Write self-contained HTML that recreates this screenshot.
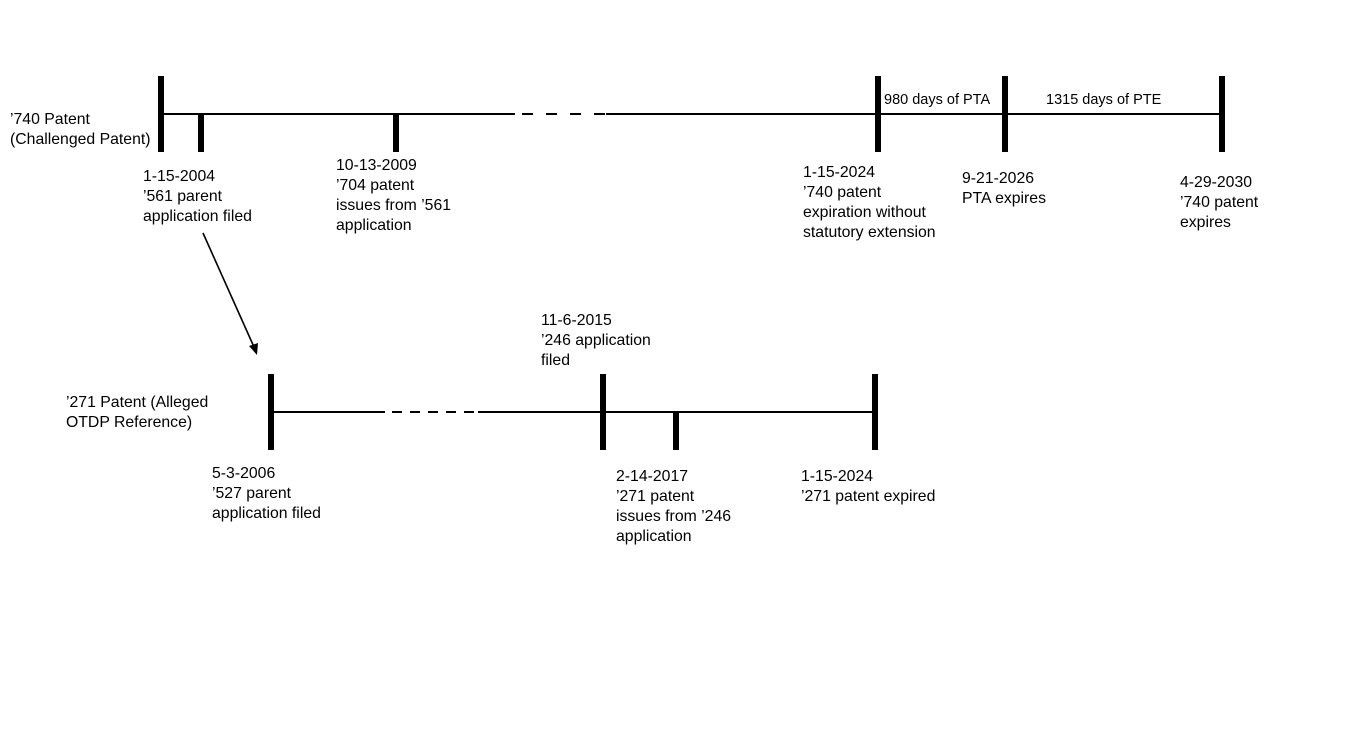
<!DOCTYPE html>
<html><head><style>
html,body{margin:0;padding:0;background:#fff;width:1346px;height:751px;overflow:hidden}
.t{position:absolute;font-family:"Liberation Sans",sans-serif;font-size:15.8px;line-height:20px;color:#000;white-space:nowrap}
</style></head><body>
<svg width="1346" height="751" style="position:absolute;left:0;top:0">
<g stroke="#000" stroke-width="2" fill="none">
<line x1="161" y1="114" x2="515" y2="114"/>
<line x1="522" y1="114" x2="606" y2="114" stroke-dasharray="11,13"/>
<line x1="606" y1="114" x2="1222" y2="114"/>
<line x1="271" y1="412" x2="385" y2="412"/>
<line x1="392" y1="412" x2="478" y2="412" stroke-dasharray="10,8"/>
<line x1="478" y1="412" x2="875" y2="412"/>
<line x1="203" y1="233" x2="254" y2="347" stroke-width="1.6"/>
</g>
<polygon points="257,355 249,346 258,343" fill="#000"/>
<g fill="#000">
<rect x="158" y="76" width="6" height="76"/>
<rect x="198" y="114" width="6" height="38"/>
<rect x="393" y="114" width="6" height="38"/>
<rect x="875" y="76" width="6" height="76"/>
<rect x="1002" y="76" width="6" height="76"/>
<rect x="1219" y="76" width="6" height="76"/>
<rect x="268" y="374" width="6" height="76"/>
<rect x="600" y="374" width="6" height="76"/>
<rect x="673" y="412" width="6" height="38"/>
<rect x="872" y="374" width="6" height="76"/>
</g>
</svg>
<div class="t" style="left:10px;top:110px">’740 Patent<br>(Challenged Patent)</div>
<div class="t" style="left:143px;top:167px">1-15-2004<br>’561 parent<br>application filed</div>
<div class="t" style="left:336px;top:156px">10-13-2009<br>’704 patent<br>issues from ’561<br>application</div>
<div class="t" style="left:884px;top:90px;font-size:14.5px">980 days of PTA</div>
<div class="t" style="left:1046px;top:90px;font-size:14.5px">1315 days of PTE</div>
<div class="t" style="left:803px;top:163px">1-15-2024<br>’740 patent<br>expiration without<br>statutory extension</div>
<div class="t" style="left:962px;top:169px">9-21-2026<br>PTA expires</div>
<div class="t" style="left:1180px;top:173px">4-29-2030<br>’740 patent<br>expires</div>
<div class="t" style="left:66px;top:393px">’271 Patent (Alleged<br>OTDP Reference)</div>
<div class="t" style="left:541px;top:311px">11-6-2015<br>’246 application<br>filed</div>
<div class="t" style="left:212px;top:464px">5-3-2006<br>’527 parent<br>application filed</div>
<div class="t" style="left:616px;top:467px">2-14-2017<br>’271 patent<br>issues from ’246<br>application</div>
<div class="t" style="left:801px;top:467px">1-15-2024<br>’271 patent expired</div>
</body></html>
